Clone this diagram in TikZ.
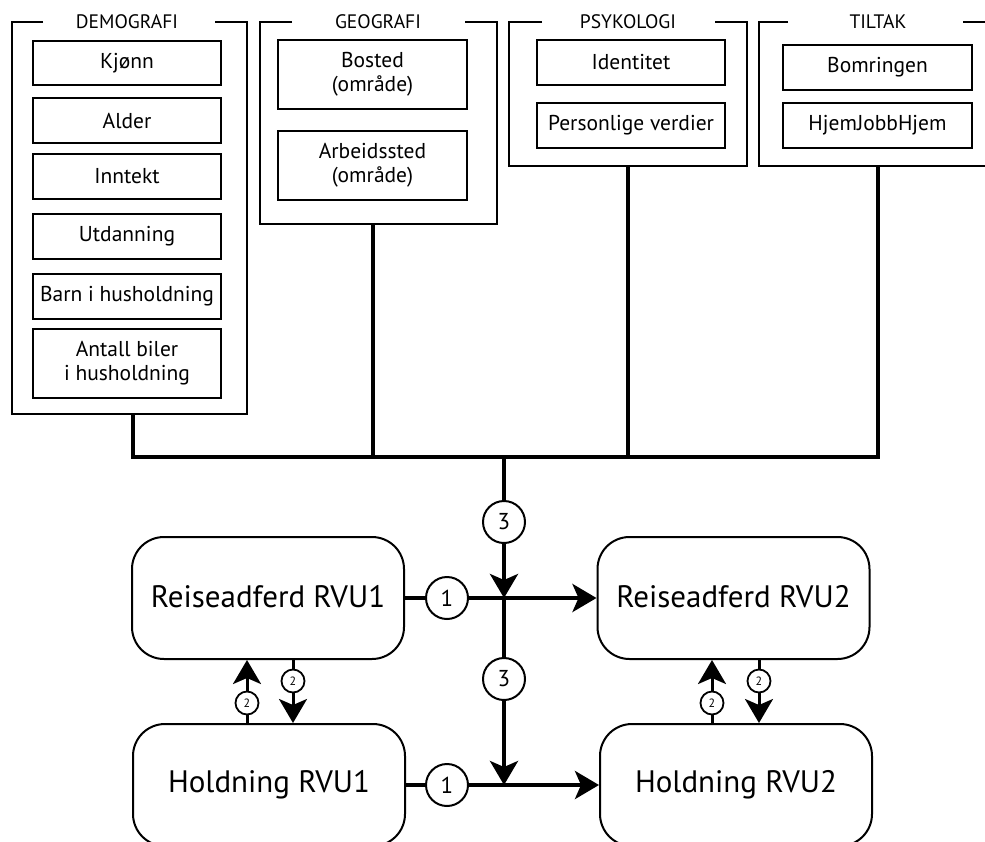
\documentclass[tikz,border=0pt]{standalone}
\usepackage{fontspec}
\setmainfont{PT Sans}
\usetikzlibrary{arrows.meta}
\begin{document}
\begin{tikzpicture}[x=1pt,y=-1pt,
  frame/.style={line width=2.6pt},
  gtitle/.style={font=\fontsize{19.5}{22}\selectfont, inner sep=0pt},
  item/.style={draw, line width=2.8pt, inner sep=0pt, align=center,
    font=\fontsize{21.5}{24}\selectfont},
  big/.style={draw, line width=2pt, rounded corners=32pt, inner sep=0pt,
    minimum width=272pt, minimum height=122pt, font=\fontsize{31}{34}\selectfont},
  conn/.style={line width=4pt},
  conn2/.style={line width=3pt},
  tip/.style={-{Stealth[length=24pt,width=28pt,inset=6pt]}},
  num/.style={circle, draw, line width=2pt, fill=white, minimum size=42pt,
    inner sep=0pt, font=\fontsize{23}{23}\selectfont},
  snum/.style={circle, draw, line width=1.8pt, fill=white, minimum size=23pt,
    inner sep=0pt, font=\fontsize{12}{12}\selectfont}
]
\useasboundingbox (0,0) rectangle (985,841);
\clip (0,0) rectangle (985,841);

% ---- group frames
\draw[frame] (43,22) -- (12,22) -- (12,414) -- (247,414) -- (247,22) -- (215,22);
\node[gtitle] (tdemo) at (127,22) {DEMOGRAFI};
\draw[frame] (292,22) -- (260,22) -- (260,224) -- (497,224) -- (497,22) -- (465,22);
\node[gtitle] (tgeo) at (378,22) {GEOGRAFI};
\draw[frame] (542,22) -- (509,22) -- (509,166) -- (747,166) -- (747,22) -- (715,22);
\node[gtitle] (tpsy) at (628,22) {PSYKOLOGI};
\draw[frame] (788,22) -- (759,22) -- (759,166) -- (997,166) -- (997,22) -- (963,22);
\node[gtitle] (ttil) at (878,22) {TILTAK};

% ---- items
\node[item, minimum width=188pt, minimum height=44pt] (kj) at (127,63) {Kjønn};
\node[item, minimum width=188pt, minimum height=45pt] (al) at (127,120.5) {Alder};
\node[item, minimum width=188pt, minimum height=45pt] (in) at (127,176.5) {Inntekt};
\node[item, minimum width=188pt, minimum height=45pt] (ut) at (127,236.5) {Utdanning};
\node[item, minimum width=188pt, minimum height=45pt] (ba) at (127,296.5) {Barn i husholdning};
\node[item, minimum width=188pt, minimum height=69pt] (an) at (127,363.5) {Antall biler\\i husholdning};

\node[item, minimum width=189pt, minimum height=69pt] (bo) at (372.5,74.5) {Bosted\\(område)};
\node[item, minimum width=189pt, minimum height=69pt] (ar) at (372.5,165.5) {Arbeidssted\\(område)};

\node[item, minimum width=188pt, minimum height=45pt] (id) at (631,62.5) {Identitet};
\node[item, minimum width=188pt, minimum height=45pt] (pv) at (631,125.5) {Personlige verdier};

\node[item, minimum width=189pt, minimum height=45pt] (bm) at (877.5,67.5) {Bomringen};
\node[item, minimum width=189pt, minimum height=45pt] (hj) at (877.5,125.5) {HjemJobbHjem};

% ---- bus
\coordinate (demob) at (133,414);
\coordinate (geob) at (373,224);
\coordinate (psyb) at (628,166);
\coordinate (tilb) at (878,166);
\coordinate (busy) at (0,457);
\coordinate (hub) at (504,457);
\draw[conn] (demob) -- (demob |- busy) -- (tilb |- busy) -- (tilb);
\draw[conn] (geob) -- (geob |- busy);
\draw[conn] (psyb) -- (psyb |- busy);

% ---- main nodes
\node[big] (r1) at (268,598) {\raisebox{3pt}{Reiseadferd RVU1}};
\node[big] (r2) at (733.5,598) {\raisebox{3pt}{Reiseadferd RVU2}};
\node[big] (h1) at (269,785) {\raisebox{3pt}{Holdning RVU1}};
\node[big] (h2) at (736,785) {\raisebox{3pt}{Holdning RVU2}};

% ---- horizontal arrows
\draw[conn, tip] (r1.east) -- (r2.west);
\draw[conn, tip] (h1.east) -- (h2.west);
% ---- trunk
\coordinate (x1) at (hub |- r1.east);
\coordinate (x2) at (hub |- h1.east);
\draw[conn, tip] (hub) -- (x1);
\draw[conn, tip] (x1) -- (x2);

\node[num] (c1a) at (447,598) {1};
\node[num] (c1b) at (447,785) {1};
\node[num] (c3a) at (504,522) {3};
\node[num] (c3b) at (504,679) {3};

% ---- vertical 2 arrows
\coordinate (ua) at (247,0);
\coordinate (da) at (293,0);
\coordinate (ub) at (712,0);
\coordinate (db) at (759,0);
\draw[conn2, tip] (h1.north -| ua) -- (r1.south -| ua);
\draw[conn2, tip] (r1.south -| da) -- (h1.north -| da);
\draw[conn2, tip] (h2.north -| ub) -- (r2.south -| ub);
\draw[conn2, tip] (r2.south -| db) -- (h2.north -| db);
\node[snum] (s1) at (247,703) {2};
\node[snum] (s2) at (293,681) {2};
\node[snum] (s3) at (712,703) {2};
\node[snum] (s4) at (759,681) {2};
\end{tikzpicture}
\end{document}
